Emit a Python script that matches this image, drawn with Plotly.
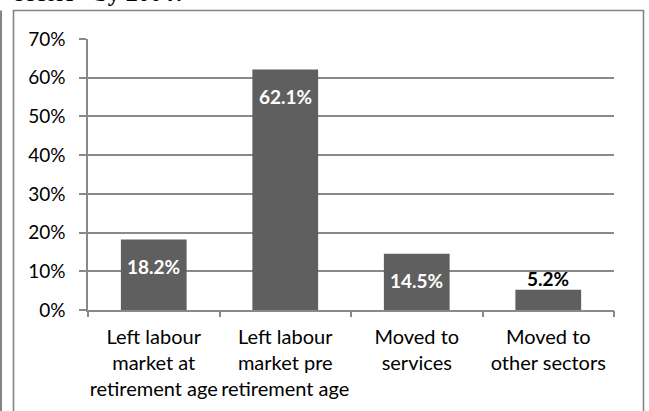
import plotly.graph_objects as go

# Destination of workers who left the sector
categories = [
    "Left labour<br>market at<br>retirement age",
    "Left labour<br>market pre<br>retirement age",
    "Moved to<br>services",
    "Moved to<br>other sectors",
]
shares = [0.182, 0.621, 0.145, 0.052]
y_ticks = [0.0, 0.1, 0.2, 0.3, 0.4, 0.5, 0.6, 0.7]

title_text = "sector\u201d by 2004?"

BAR = "#5f5f5f"
GRID = "#898989"
FONT = "Lato"

fig = go.Figure()
fig.add_trace(go.Bar(
    x=list(range(len(categories))),
    y=shares,
    marker=dict(color=BAR, line=dict(width=0)),
    hoverinfo="skip",
))

# value labels: inside near the top for tall bars, above short ones
annotations = []
for i, v in enumerate(shares):
    inside = v > 0.1
    annotations.append(dict(
        x=i, y=v, xref="x", yref="y",
        text=f"<b>{v * 100:.1f}%</b>",
        showarrow=False,
        yanchor="middle",
        yshift=-27 if inside else 11,
        font=dict(family=FONT, size=19, color="white" if inside else "black"),
    ))

# partial heading above the chart frame
annotations.append(dict(
    x=(13 - 88) / 526, y=1, xref="paper", yref="paper",
    xanchor="left", yanchor="bottom", yshift=31,
    text=f"<b>{title_text}</b>",
    showarrow=False,
    font=dict(family="Liberation Serif", size=24, color="black"),
))

px_x = lambda p: (p - 88) / 526
px_y = lambda p: (310 - p) / 271

shapes = [
    # chart frame
    dict(type="rect", xref="paper", yref="paper",
         x0=px_x(13.5), x1=px_x(643.5), y0=px_y(430), y1=px_y(10.5),
         line=dict(color="#858585", width=1.6), layer="below"),
    # page edge on the left
    dict(type="line", xref="paper", yref="paper",
         x0=px_x(1), x1=px_x(1), y0=px_y(430), y1=px_y(10.5),
         line=dict(color="#858585", width=2), layer="below"),
]

fig.update_layout(
    width=649, height=411,
    margin=dict(l=88, r=35, t=39, b=101),
    paper_bgcolor="white", plot_bgcolor="white",
    bargap=0.5,
    showlegend=False,
    annotations=annotations,
    shapes=shapes,
    font=dict(family=FONT, color="black"),
    xaxis=dict(
        type="linear",
        range=[-0.5, len(categories) - 0.5],
        tickmode="array",
        tickvals=list(range(len(categories))),
        ticktext=categories,
        showgrid=False, zeroline=False,
        showline=True, linecolor=GRID, linewidth=1.5,
        ticks="",
        tickfont=dict(family=FONT, size=20, color="black"),
        ticklabelstandoff=8,
        fixedrange=True,
    ),
    xaxis2=dict(
        overlaying="x", range=[-0.5, len(categories) - 0.5],
        tickmode="array", tickvals=[i - 0.5 for i in range(len(categories) + 1)],
        showticklabels=False, ticks="outside", ticklen=6,
        tickcolor=GRID, tickwidth=1.5, showgrid=False, zeroline=False,
        side="bottom", anchor="y",
    ),
    yaxis=dict(
        range=[0, 0.7],
        tickmode="array", tickvals=y_ticks,
        tickformat=".0%",
        showgrid=True, gridcolor=GRID, gridwidth=1.5,
        zeroline=False,
        showline=True, linecolor=GRID, linewidth=1.5,
        ticks="outside", ticklen=7, tickcolor=GRID, tickwidth=1.5,
        tickfont=dict(family=FONT, size=19, color="black"),
        ticklabelstandoff=10,
        fixedrange=True,
    ),
)

# invisible trace to activate the boundary tick axis
fig.add_trace(go.Scatter(x=[0], y=[0], xaxis="x2", mode="markers",
                         marker=dict(opacity=0), hoverinfo="skip"))

fig.write_html("out.html", config={"displayModeBar": False})
